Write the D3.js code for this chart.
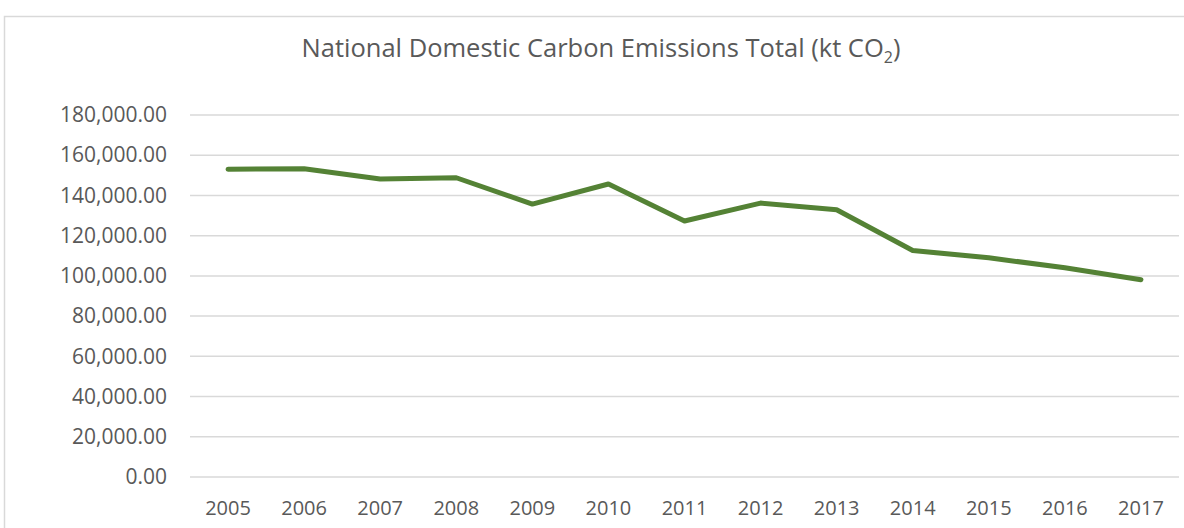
<!DOCTYPE html>
<html>
<head>
<meta charset="utf-8">
<script src="https://cdn.jsdelivr.net/npm/d3@7"></script>
<style>
  html, body { margin: 0; padding: 0; background: #fff; }
  svg { display: block; }
</style>
</head>
<body>
<svg id="chart" width="1184" height="528"></svg>
<script>
const years = ["2005","2006","2007","2008","2009","2010","2011","2012","2013","2014","2015","2016","2017"];
const emissions = [153000, 153300, 148200, 148800, 135700, 145700, 127300, 136200, 132900, 112600, 109000, 104000, 98100];
const yTicks = [0, 20000, 40000, 60000, 80000, 100000, 120000, 140000, 160000, 180000];
const titleMain = "National Domestic Carbon Emissions Total (kt CO";
const titleSub = "2";
const titleEnd = ")";

(function () {
const svg = d3.select("#chart");
const W = 1184, H = 528;
const font = "'Open Sans', sans-serif";
const textColor = "#595959";

// chart border
svg.append("rect")
  .attr("x", 4.5).attr("y", 16.5)
  .attr("width", W + 10).attr("height", H + 10)
  .attr("fill", "none").attr("stroke", "#d9d9d9").attr("stroke-width", 1.5);

const pLeft = 190, pRight = 1179, pTop = 115, pBottom = 477;

const x = d3.scaleBand().domain(years).range([pLeft, pRight]);
const y = d3.scaleLinear().domain([0, 180000]).range([pBottom, pTop]);

// gridlines
svg.append("g")
  .selectAll("line")
  .data(yTicks)
  .join("line")
  .attr("x1", pLeft).attr("x2", pRight)
  .attr("y1", d => y(d)).attr("y2", d => y(d))
  .attr("stroke", "#d9d9d9").attr("stroke-width", 1.5);

// y axis labels
const yAxis = d3.axisLeft(y).tickValues(yTicks).tickSize(0).tickPadding(0)
  .tickFormat(d => d3.format(",.2f")(d));
const gy = svg.append("g").attr("transform", `translate(${167},0)`).call(yAxis);
gy.select(".domain").remove();
gy.selectAll("text").attr("font-family", font).attr("font-size", 21).attr("fill", textColor);

// x axis labels
const xAxis = d3.axisBottom(x).tickSize(0).tickPadding(0);
const gx = svg.append("g").attr("transform", `translate(0,${501})`).call(xAxis);
gx.select(".domain").remove();
gx.selectAll("text").attr("font-family", font).attr("font-size", 20).attr("fill", textColor);

// line
const line = d3.line()
  .x((d, i) => x(years[i]) + x.bandwidth() / 2)
  .y(d => y(d));
svg.append("path")
  .datum(emissions)
  .attr("d", line)
  .attr("fill", "none")
  .attr("stroke", "#548235")
  .attr("stroke-width", 5)
  .attr("stroke-linejoin", "round")
  .attr("stroke-linecap", "round");

// title
const title = svg.append("text")
  .attr("x", 601).attr("y", 57)
  .attr("text-anchor", "middle")
  .attr("font-family", font).attr("font-size", 25.5).attr("fill", textColor);
title.append("tspan").text(titleMain);
title.append("tspan").attr("font-size", 16).attr("dy", 6).text(titleSub);
title.append("tspan").attr("dy", -6).text(titleEnd);
})();
</script>
</body>
</html>
